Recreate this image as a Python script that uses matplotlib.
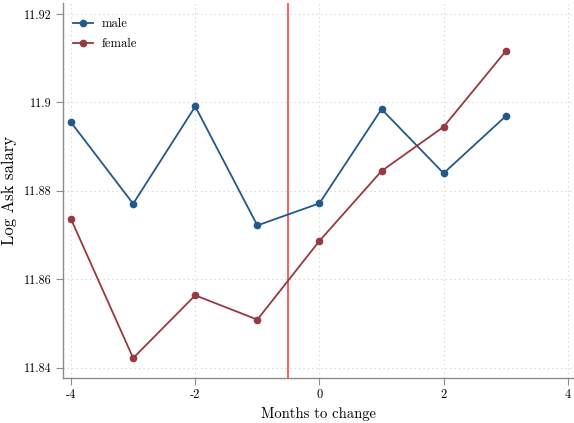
import matplotlib
matplotlib.use("Agg")
import matplotlib.pyplot as plt

months = [-4, -3, -2, -1, 0, 1, 2, 3]
male = [11.8955, 11.8771, 11.8991, 11.8722, 11.8772, 11.8985, 11.8840, 11.8969]
female = [11.8736, 11.8422, 11.8564, 11.8509, 11.8687, 11.8845, 11.8945, 11.9116]
xticks = [-4, -2, 0, 2, 4]
yticks = [11.84, 11.86, 11.88, 11.90, 11.92]
ytick_labels = ["11.84", "11.86", "11.88", "11.9", "11.92"]
xtick_labels = ["-4", "-2", "0", "2", "4"]
cutoff = -0.5

plt.rcParams['font.family'] = ['cmr10', 'DejaVu Serif']
plt.rcParams['axes.unicode_minus'] = False
plt.rcParams['mathtext.fontset'] = 'cm'

navy = '#22588a'
maroon = '#963a40'
gray = '#8c8c8c'

fig = plt.figure(figsize=(5.74, 4.23), dpi=100)
ax = fig.add_axes([63/574, 1-378/423, (574-63)/574, (378-3)/423])

ax.plot(months, male, '-o', color=navy, lw=1.3, ms=4.5, label='male', zorder=3)
ax.plot(months, female, '-o', color=maroon, lw=1.3, ms=4.5, label='female', zorder=3)
ax.axvline(cutoff, color='#ff3030', lw=1.1, zorder=2)

ax.set_xlim(-4.13, 4.1)
ax.set_ylim(11.8377, 11.9225)
ax.set_xticks(xticks)
ax.set_xticklabels(xtick_labels, fontsize=9)
ax.set_yticks(yticks)
ax.set_yticklabels(ytick_labels, fontsize=8.7)

ax.grid(True, linestyle=(0, (1, 3)), color='#cfcfcf', lw=0.8)
for s in ['top', 'right']:
    ax.spines[s].set_visible(False)
for s in ['left', 'bottom']:
    ax.spines[s].set_color(gray)
    ax.spines[s].set_linewidth(1.0)
ax.tick_params(axis='both', colors='black', length=5, width=0.8, color=gray, direction='out')
ax.tick_params(axis='x', pad=3)

ax.set_xlabel('Months to change', fontsize=10.5, labelpad=4)
ax.set_ylabel('Log Ask salary', fontsize=12, labelpad=5)

ax.legend(loc='upper left', frameon=False, prop={'size': 9}, handlelength=1.6,
          borderaxespad=0, borderpad=0, bbox_to_anchor=(10/511, 1 - 15/375),
          labelspacing=0.65, handletextpad=0.7)

fig.savefig('out.png', dpi=100)
